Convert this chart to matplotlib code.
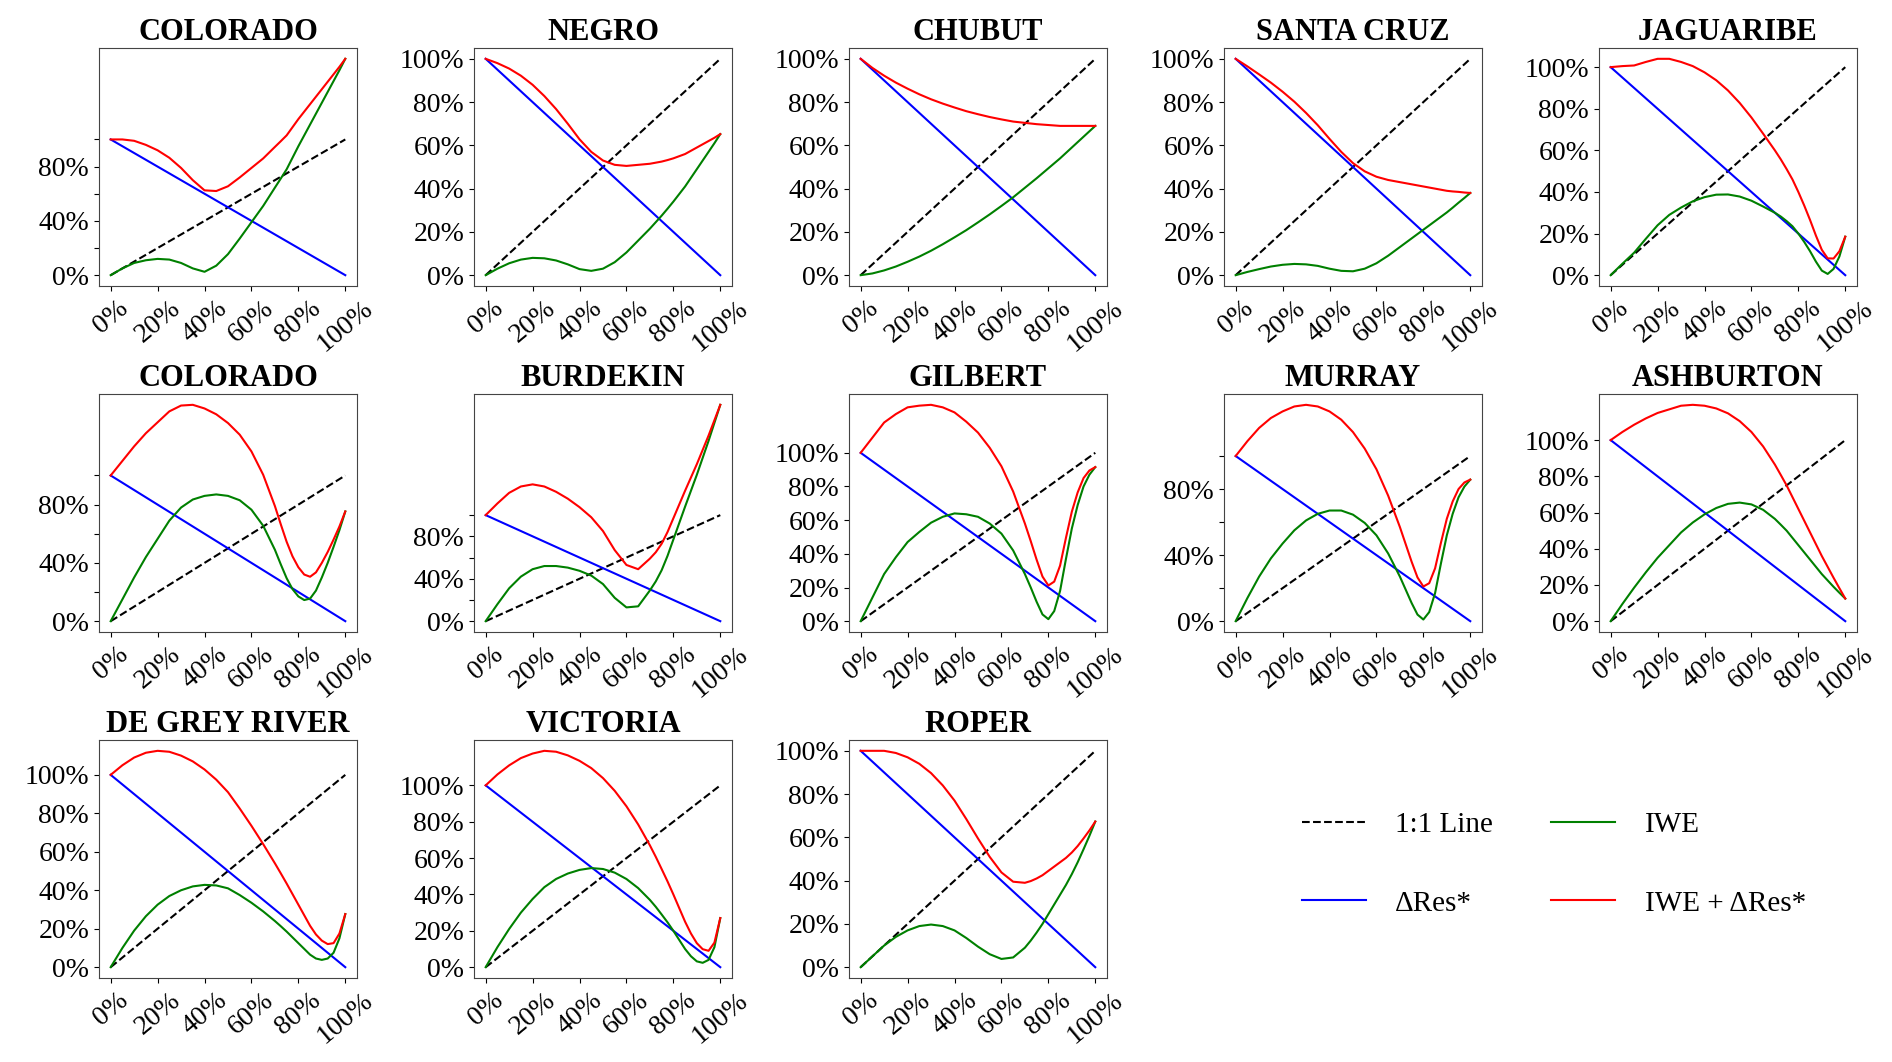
import numpy as np
import matplotlib
matplotlib.use('Agg')
import matplotlib.pyplot as plt

plt.rcParams['font.family'] = ['Liberation Serif', 'DejaVu Serif']

# fraction of the record (x) shared by all panels, finer near the end where the dips are
x_frac = [0.0, 0.05, 0.1, 0.15, 0.2, 0.25, 0.3, 0.35, 0.4, 0.45, 0.5, 0.55, 0.6, 0.65, 0.7,
          0.725, 0.75, 0.775, 0.8, 0.825, 0.85, 0.875, 0.9, 0.925, 0.95, 0.975, 1.0]
delta_res = [1.0, 0.95, 0.9, 0.85, 0.8, 0.75, 0.7, 0.65, 0.6, 0.55, 0.5, 0.45, 0.4, 0.35, 0.3,
             0.275, 0.25, 0.225, 0.2, 0.175, 0.15, 0.125, 0.1, 0.075, 0.05, 0.025, 0.0]

# IWE curves
iwe_colorado_1 = [0, 0.05, 0.09, 0.11, 0.12, 0.115, 0.09, 0.05, 0.025, 0.07, 0.155, 0.27, 0.39, 0.51, 0.645,
                  0.712, 0.78, 0.865, 0.95, 1.03, 1.11, 1.19, 1.27, 1.35, 1.43, 1.51, 1.594]
iwe_negro = [0, 0.03, 0.055, 0.072, 0.08, 0.078, 0.068, 0.05, 0.028, 0.02, 0.03, 0.06, 0.105, 0.16, 0.215,
             0.245, 0.275, 0.307, 0.34, 0.375, 0.41, 0.45, 0.49, 0.53, 0.57, 0.61, 0.652]
iwe_chubut = [0, 0.008, 0.022, 0.04, 0.062, 0.086, 0.113, 0.143, 0.175, 0.208, 0.244, 0.281, 0.32, 0.36, 0.404,
              0.426, 0.448, 0.471, 0.494, 0.517, 0.54, 0.565, 0.59, 0.615, 0.64, 0.665, 0.69]
iwe_santa_cruz = [0, 0.015, 0.028, 0.04, 0.048, 0.052, 0.05, 0.043, 0.03, 0.02, 0.018, 0.03, 0.055, 0.09, 0.13,
                  0.15, 0.17, 0.19, 0.21, 0.23, 0.25, 0.27, 0.29, 0.312, 0.335, 0.357, 0.38]
iwe_jaguaribe = [0, 0.055, 0.108, 0.175, 0.24, 0.29, 0.325, 0.355, 0.375, 0.387, 0.388, 0.378, 0.358, 0.33, 0.3,
                 0.282, 0.26, 0.235, 0.2, 0.16, 0.115, 0.065, 0.022, 0.006, 0.03, 0.09, 0.185]
iwe_colorado_2 = [0, 0.15, 0.3, 0.44, 0.565, 0.69, 0.78, 0.835, 0.86, 0.87, 0.86, 0.83, 0.765, 0.655, 0.49,
                  0.39, 0.295, 0.22, 0.17, 0.145, 0.155, 0.21, 0.3, 0.4, 0.51, 0.625, 0.753]
iwe_burdekin = [0, 0.16, 0.31, 0.42, 0.49, 0.52, 0.52, 0.505, 0.475, 0.43, 0.35, 0.22, 0.13, 0.14, 0.29,
                0.375, 0.48, 0.615, 0.77, 0.925, 1.08, 1.23, 1.38, 1.54, 1.7, 1.87, 2.04]
iwe_gilbert = [0, 0.14, 0.28, 0.38, 0.47, 0.53, 0.585, 0.62, 0.64, 0.635, 0.62, 0.58, 0.52, 0.42, 0.28,
               0.2, 0.115, 0.04, 0.012, 0.06, 0.18, 0.37, 0.55, 0.69, 0.8, 0.87, 0.915]
iwe_murray = [0, 0.14, 0.27, 0.38, 0.47, 0.55, 0.61, 0.65, 0.67, 0.67, 0.645, 0.595, 0.52, 0.41, 0.27,
              0.19, 0.11, 0.04, 0.01, 0.055, 0.17, 0.35, 0.52, 0.65, 0.75, 0.815, 0.857]
iwe_ashburton = [0, 0.095, 0.185, 0.27, 0.35, 0.42, 0.49, 0.545, 0.59, 0.625, 0.648, 0.655, 0.645, 0.615, 0.565,
                 0.533, 0.5, 0.46, 0.42, 0.38, 0.34, 0.3, 0.26, 0.225, 0.19, 0.157, 0.125]
iwe_de_grey = [0, 0.1, 0.19, 0.265, 0.325, 0.37, 0.4, 0.42, 0.428, 0.425, 0.41, 0.375, 0.335, 0.29, 0.24,
               0.213, 0.185, 0.155, 0.125, 0.095, 0.065, 0.045, 0.038, 0.045, 0.075, 0.15, 0.276]
iwe_victoria = [0, 0.11, 0.21, 0.3, 0.375, 0.44, 0.485, 0.515, 0.535, 0.545, 0.54, 0.52, 0.485, 0.435, 0.37,
                0.332, 0.29, 0.247, 0.2, 0.15, 0.1, 0.06, 0.032, 0.024, 0.04, 0.11, 0.27]
iwe_roper = [0, 0.05, 0.1, 0.14, 0.17, 0.19, 0.197, 0.19, 0.17, 0.135, 0.095, 0.06, 0.038, 0.045, 0.09,
             0.123, 0.16, 0.2, 0.245, 0.29, 0.335, 0.38, 0.43, 0.485, 0.545, 0.607, 0.673]

rivers = ['COLORADO', 'NEGRO', 'CHUBUT', 'SANTA CRUZ', 'JAGUARIBE',
          'COLORADO', 'BURDEKIN', 'GILBERT', 'MURRAY', 'ASHBURTON',
          'DE GREY RIVER', 'VICTORIA', 'ROPER']
iwe_all = [iwe_colorado_1, iwe_negro, iwe_chubut, iwe_santa_cruz, iwe_jaguaribe,
           iwe_colorado_2, iwe_burdekin, iwe_gilbert, iwe_murray, iwe_ashburton,
           iwe_de_grey, iwe_victoria, iwe_roper]
# panels whose y axis only shows 0%, 40%, 80%
sparse_y = [True, False, False, False, False,
            True, True, False, True, False,
            False, False, False]

tick_vals = [0, 0.2, 0.4, 0.6, 0.8, 1.0]
pct_labels = ['0%', '20%', '40%', '60%', '80%', '100%']
sparse_labels = ['0%', '', '40%', '', '80%', '']

fig = plt.figure(figsize=(18.92, 10.62), dpi=100)
lefts = [0.0523, 0.2505, 0.4487, 0.6469, 0.8451]
bottoms = [0.7307, 0.4049, 0.0791]

for i, (name, iwe) in enumerate(zip(rivers, iwe_all)):
    r, c = divmod(i, 5)
    ax = fig.add_axes([lefts[c], bottoms[r], 0.1364, 0.2241])
    ax.plot(x_frac, x_frac, 'k--', lw=1.5, label='1:1 Line')
    ax.plot(x_frac, delta_res, color='blue', lw=1.5, label='ΔRes*')
    ax.plot(x_frac, iwe, color='green', lw=1.5, label='IWE')
    ax.plot(x_frac, np.add(iwe, delta_res), color='red', lw=1.5, label='IWE + ΔRes*')
    ax.set_title(name, fontsize=22, fontweight='bold')
    ax.set_xticks(tick_vals)
    ax.set_xticklabels(pct_labels, fontsize=20, rotation=40)
    ax.set_yticks(tick_vals)
    ax.set_yticklabels(sparse_labels if sparse_y[i] else pct_labels, fontsize=20)
    for s in ax.spines.values():
        s.set_color('#444444')

handles, labels = ax.get_legend_handles_labels()
fig.legend(handles, labels, loc='upper left', bbox_to_anchor=(0.688, 0.236),
           ncol=2, frameon=False, fontsize=21, handlelength=2.2, handletextpad=1.0,
           columnspacing=2.0, labelspacing=1.8, borderaxespad=0, borderpad=0)

fig.savefig('out.png', dpi=100)
